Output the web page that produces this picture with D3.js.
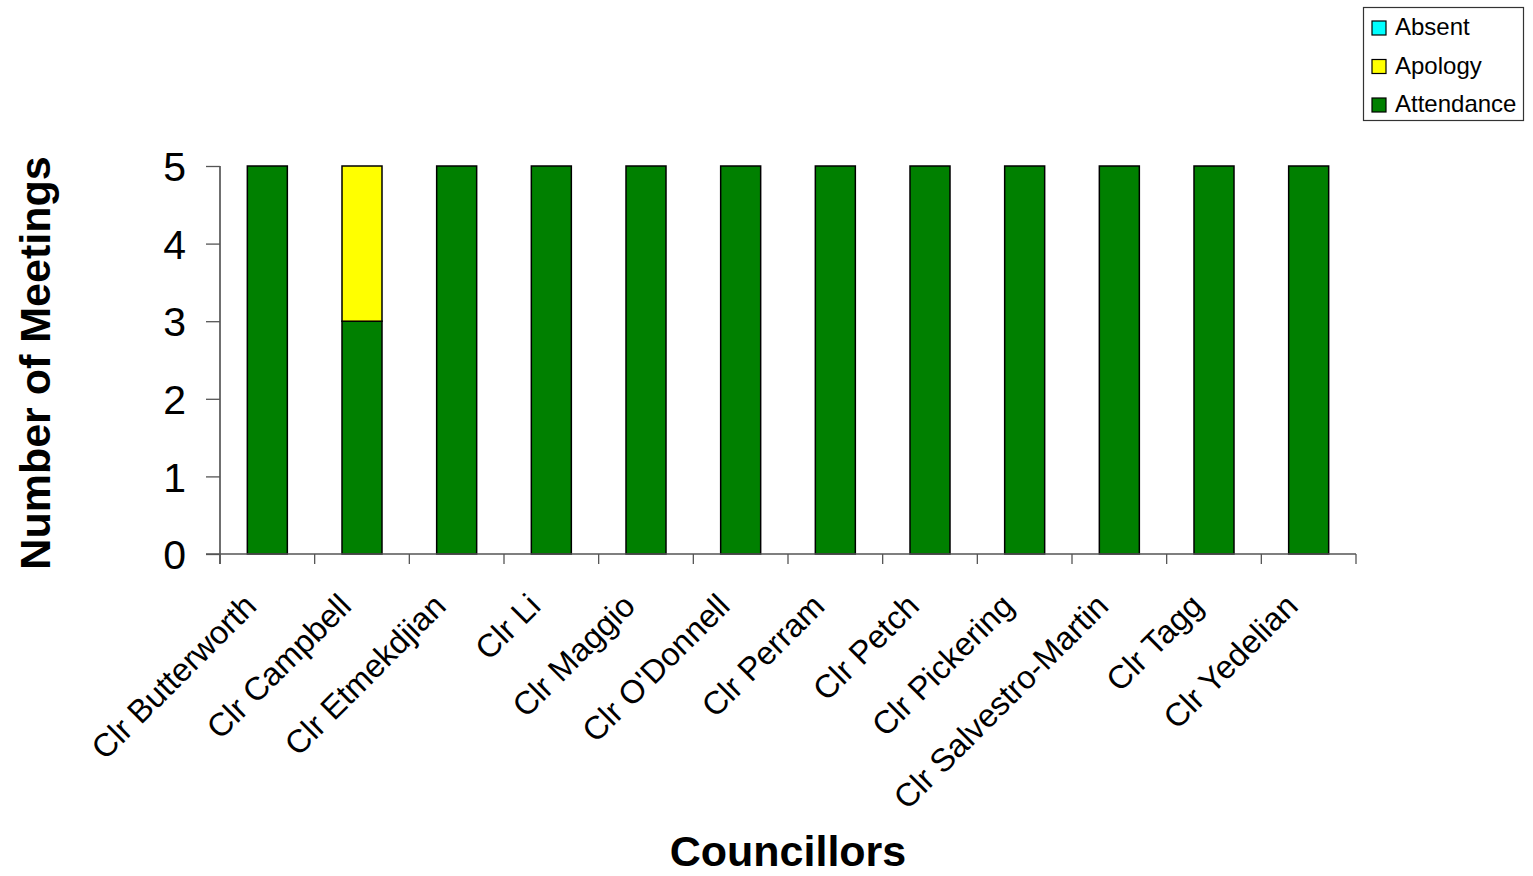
<!DOCTYPE html>
<html>
<head>
<meta charset="utf-8">
<script src="https://cdn.jsdelivr.net/npm/d3@7"></script>
<style>
  html, body { margin: 0; padding: 0; background: #fff; }
  svg { display: block; font-family: "Liberation Sans", Arial, sans-serif; }
</style>
</head>
<body>
<svg id="chart" width="1533" height="876"></svg>
<script>
// Councillor meeting attendance, stacked by outcome
const councillors = ["Clr Butterworth", "Clr Campbell", "Clr Etmekdjian", "Clr Li", "Clr Maggio",
  "Clr O'Donnell", "Clr Perram", "Clr Petch", "Clr Pickering", "Clr Salvestro-Martin",
  "Clr Tagg", "Clr Yedelian"];
const attendance = [5, 3, 5, 5, 5, 5, 5, 5, 5, 5, 5, 5];
const apology    = [0, 2, 0, 0, 0, 0, 0, 0, 0, 0, 0, 0];
const absent     = [0, 0, 0, 0, 0, 0, 0, 0, 0, 0, 0, 0];
const yTicks = [0, 1, 2, 3, 4, 5];

const seriesNames = ["Attendance", "Apology", "Absent"];
const seriesColors = { Attendance: "#008000", Apology: "#FFFF00", Absent: "#00FFFF" };

const rows = councillors.map((name, i) => ({
  name, Attendance: attendance[i], Apology: apology[i], Absent: absent[i]
}));
const stacked = d3.stack().keys(seriesNames)(rows);

const svg = d3.select("#chart");
const plotLeft = 220, plotRight = 1356, plotTop = 166, plotBottom = 554;
const barWidth = 40;

const xCat = d3.scaleBand().domain(councillors).range([plotLeft, plotRight]);
const y = d3.scaleLinear().domain([0, 5]).range([plotBottom, plotTop]);

// bars
svg.append("g").selectAll("g").data(stacked).join("g")
  .attr("fill", d => seriesColors[d.key])
  .selectAll("rect").data(d => d.filter(p => p[1] - p[0] > 0)).join("rect")
  .attr("x", d => xCat(d.data.name) + xCat.bandwidth() / 2 - barWidth / 2)
  .attr("width", barWidth)
  .attr("y", d => y(d[1]))
  .attr("height", d => y(d[0]) - y(d[1]))
  .attr("stroke", "#000")
  .attr("stroke-width", 1.5);

// y axis
const yAxis = svg.append("g").attr("transform", `translate(${plotLeft},0)`)
  .call(d3.axisLeft(y).tickValues(yTicks).tickSize(14).tickPadding(20).tickFormat(d3.format("d")));
yAxis.select(".domain").attr("stroke", "#222").attr("stroke-width", 1.3)
  .attr("d", `M0,${plotTop}V${plotBottom + 10}`);
yAxis.selectAll(".tick line").attr("stroke", "#555").attr("stroke-width", 1.3);
yAxis.selectAll(".tick text").attr("font-size", 41).attr("fill", "#000")
  .attr("font-family", "Liberation Sans, Arial, sans-serif").attr("dy", "0.36em");

// x axis line and category ticks
const xAxis = svg.append("g");
xAxis.append("line").attr("x1", plotLeft - 14).attr("x2", plotRight)
  .attr("y1", plotBottom).attr("y2", plotBottom)
  .attr("stroke", "#555").attr("stroke-width", 1.3);
const boundaries = councillors.map(c => xCat(c)).concat([plotRight]);
xAxis.selectAll("line.tk").data(boundaries).join("line").attr("class", "tk")
  .attr("x1", d => d).attr("x2", d => d).attr("y1", plotBottom).attr("y2", plotBottom + 10)
  .attr("stroke", "#555").attr("stroke-width", 1.3);

// category labels
xAxis.selectAll("text").data(councillors).join("text")
  .attr("transform", d => `translate(${xCat(d) + xCat.bandwidth() / 2 - 9},${plotBottom + 54}) rotate(-45)`)
  .attr("text-anchor", "end")
  .attr("font-size", 32.5)
  .text(d => d);

// axis titles
svg.append("text")
  .attr("transform", `translate(50,${(plotTop + plotBottom) / 2 + 3}) rotate(-90)`)
  .attr("text-anchor", "middle").attr("font-size", 43).attr("font-weight", "bold")
  .text("Number of Meetings");
svg.append("text")
  .attr("x", 788).attr("y", 866)
  .attr("text-anchor", "middle").attr("font-size", 43).attr("font-weight", "bold")
  .text("Councillors");

// legend
const legend = svg.append("g");
legend.append("rect").attr("x", 1363.5).attr("y", 7.5).attr("width", 160).attr("height", 113)
  .attr("fill", "#fff").attr("stroke", "#333").attr("stroke-width", 1.2);
const legendOrder = ["Absent", "Apology", "Attendance"];
const item = legend.selectAll("g.item").data(legendOrder).join("g").attr("class", "item")
  .attr("transform", (d, i) => `translate(1372,${21 + i * 38.5})`);
item.append("rect").attr("width", 14).attr("height", 14)
  .attr("fill", d => seriesColors[d]).attr("stroke", "#000").attr("stroke-width", 1.2);
item.append("text").attr("x", 23).attr("y", 14).attr("font-size", 24).text(d => d);
</script>
</body>
</html>
